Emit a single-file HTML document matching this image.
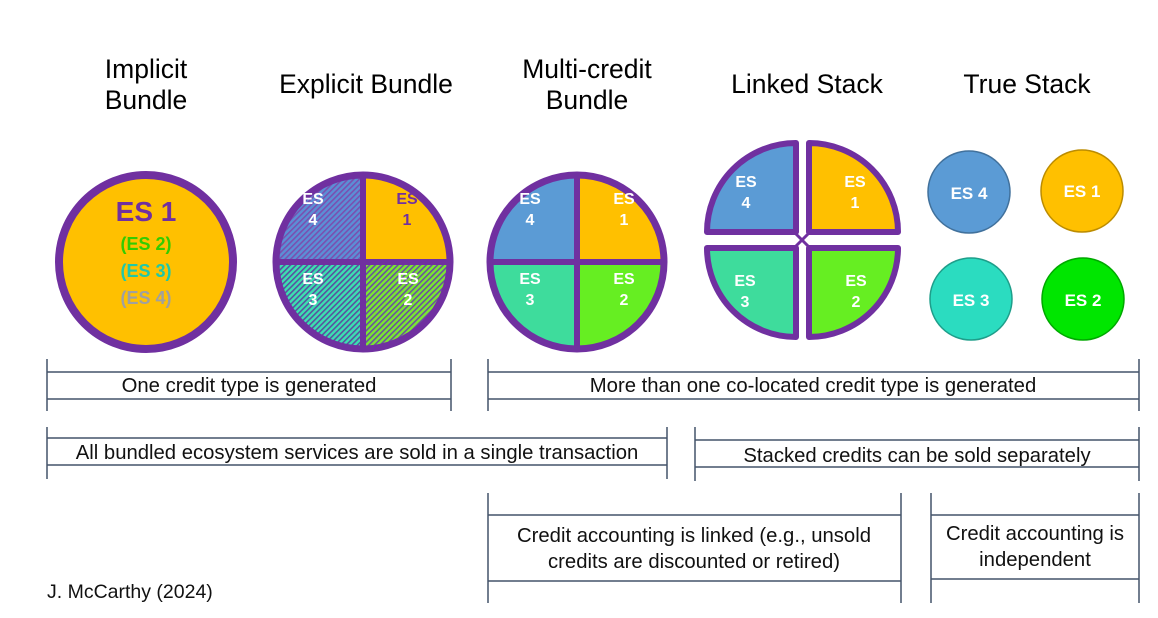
<!DOCTYPE html>
<html><head><meta charset="utf-8"><style>
body{margin:0;background:#fff;}
svg{display:block;font-family:"Liberation Sans",sans-serif;}
.t{font-size:26.5px;fill:#000;text-anchor:middle;}
.l{font-size:20.3px;fill:#111;text-anchor:middle;}
.w{font-size:16px;font-weight:bold;fill:#fff;text-anchor:middle;}
.br{stroke:#44546A;stroke-width:1.5;fill:none;}
</style></head><body>
<svg width="1158" height="618" viewBox="0 0 1158 618">
<defs>
<pattern id="hb" width="4" height="4" patternUnits="userSpaceOnUse" patternTransform="rotate(45)"><rect width="4" height="4" fill="#5B8FD5"/><rect width="1.6" height="4" fill="#7a4fb0"/></pattern>
<pattern id="ht" width="4" height="4" patternUnits="userSpaceOnUse" patternTransform="rotate(45)"><rect width="4" height="4" fill="#3CE0B0"/><rect width="1.6" height="4" fill="#5a4fa0"/></pattern>
<pattern id="hg" width="4" height="4" patternUnits="userSpaceOnUse" patternTransform="rotate(45)"><rect width="4" height="4" fill="#7AE830"/><rect width="1.6" height="4" fill="#6a50a0"/></pattern>
</defs>
<text class="t" x="146" y="78">Implicit</text><text class="t" x="146" y="109">Bundle</text>
<text class="t" x="366" y="93">Explicit Bundle</text>
<text class="t" x="587" y="78">Multi-credit</text><text class="t" x="587" y="109">Bundle</text>
<text class="t" x="807" y="93">Linked Stack</text>
<text class="t" x="1027" y="93">True Stack</text>

<circle cx="146" cy="262" r="87" fill="#FFC000" stroke="#7030A0" stroke-width="8"/>
<text x="146" y="221" text-anchor="middle" font-size="28" font-weight="bold" fill="#7030A0">ES 1</text>
<text x="146" y="250" text-anchor="middle" font-size="18" font-weight="bold" fill="#33CC00">(ES 2)</text>
<text x="146" y="277" text-anchor="middle" font-size="18" font-weight="bold" fill="#1FC8A8">(ES 3)</text>
<text x="146" y="304" text-anchor="middle" font-size="18" font-weight="bold" fill="#A0A0A0">(ES 4)</text>

<g>
<path d="M363,262 L363,175 A87,87 0 0 1 450,262Z" fill="#FFC000"/>
<path d="M363,262 L450,262 A87,87 0 0 1 363,349Z" fill="url(#hg)"/>
<path d="M363,262 L363,349 A87,87 0 0 1 276,262Z" fill="url(#ht)"/>
<path d="M363,262 L276,262 A87,87 0 0 1 363,175Z" fill="url(#hb)"/>
<circle cx="363" cy="262" r="87" fill="none" stroke="#7030A0" stroke-width="7"/>
<line x1="363" y1="175" x2="363" y2="349" stroke="#7030A0" stroke-width="6"/>
<line x1="276" y1="262" x2="450" y2="262" stroke="#7030A0" stroke-width="6"/>
<text class="w" x="407" y="204" style="fill:#7030A0">ES</text><text x="407" y="225" class="w" style="fill:#7030A0">1</text>
<text class="w" x="408" y="284">ES</text><text class="w" x="408" y="305">2</text>
<text class="w" x="313" y="284">ES</text><text class="w" x="313" y="305">3</text>
<text class="w" x="313" y="204">ES</text><text class="w" x="313" y="225">4</text>
</g>

<g>
<path d="M577,262 L577,175 A87,87 0 0 1 664,262Z" fill="#FFC000"/>
<path d="M577,262 L664,262 A87,87 0 0 1 577,349Z" fill="#66EE22"/>
<path d="M577,262 L577,349 A87,87 0 0 1 490,262Z" fill="#3EDC9C"/>
<path d="M577,262 L490,262 A87,87 0 0 1 577,175Z" fill="#5B9BD5"/>
<circle cx="577" cy="262" r="87" fill="none" stroke="#7030A0" stroke-width="7"/>
<line x1="577" y1="175" x2="577" y2="349" stroke="#7030A0" stroke-width="6"/>
<line x1="490" y1="262" x2="664" y2="262" stroke="#7030A0" stroke-width="6"/>
<text class="w" x="624" y="204">ES</text><text class="w" x="624" y="225">1</text>
<text class="w" x="624" y="284">ES</text><text class="w" x="624" y="305">2</text>
<text class="w" x="530" y="284">ES</text><text class="w" x="530" y="305">3</text>
<text class="w" x="530" y="204">ES</text><text class="w" x="530" y="225">4</text>
</g>

<g stroke="#7030A0" stroke-width="6" stroke-linejoin="round">
<path d="M809,232 L809,143 A89,89 0 0 1 898,232Z" fill="#FFC000"/>
<path d="M809,248 L898,248 A89,89 0 0 1 809,337Z" fill="#66EE22"/>
<path d="M796,248 L796,337 A89,89 0 0 1 707,248Z" fill="#3EDC9C"/>
<path d="M796,232 L707,232 A89,89 0 0 1 796,143Z" fill="#5B9BD5"/>
<line x1="796" y1="234" x2="808" y2="246" stroke-width="3"/><line x1="808" y1="234" x2="796" y2="246" stroke-width="3"/>
</g>
<text class="w" x="855" y="187">ES</text><text class="w" x="855" y="208">1</text>
<text class="w" x="856" y="286">ES</text><text class="w" x="856" y="307">2</text>
<text class="w" x="745" y="286">ES</text><text class="w" x="745" y="307">3</text>
<text class="w" x="746" y="187">ES</text><text class="w" x="746" y="208">4</text>

<circle cx="969" cy="192" r="41" fill="#5B9BD5" stroke="#41719C" stroke-width="1.5"/>
<circle cx="1082" cy="191" r="41" fill="#FFC000" stroke="#BC8C00" stroke-width="1.5"/>
<circle cx="971" cy="299" r="41" fill="#2BDCC0" stroke="#1E9E8A" stroke-width="1.5"/>
<circle cx="1083" cy="299" r="41" fill="#00E600" stroke="#00A800" stroke-width="1.5"/>
<g font-size="17" font-weight="bold" fill="#fff" text-anchor="middle">
<text x="969" y="199">ES 4</text><text x="1082" y="197">ES 1</text><text x="971" y="306">ES 3</text><text x="1083" y="306">ES 2</text></g>

<g class="br">
<path d="M47,359V411M451,359V411M47,372H451M47,399H451"/>
<path d="M488,359V411M1139,359V411M488,372H1139M488,399H1139"/>
<path d="M47,427V479M667,427V479M47,438H667M47,465H667"/>
<path d="M695,427V481M1139,427V481M695,440H1139M695,467H1139"/>
<path d="M488,493V603M901,493V603M488,515H901M488,581H901"/>
<path d="M931,493V603M1139,493V603M931,515H1139M931,579H1139"/>
</g>
<text class="l" x="249" y="392">One credit type is generated</text>
<text class="l" x="813" y="392">More than one co-located credit type is generated</text>
<text class="l" x="357" y="459">All bundled ecosystem services are sold in a single transaction</text>
<text class="l" x="917" y="462">Stacked credits can be sold separately</text>
<text class="l" x="694" y="542">Credit accounting is linked (e.g., unsold</text>
<text class="l" x="694" y="568">credits are discounted or retired)</text>
<text class="l" x="1035" y="540">Credit accounting is</text>
<text class="l" x="1035" y="566">independent</text>
<text x="47" y="598" font-size="19.5" fill="#111">J. McCarthy (2024)</text>
</svg>
</body></html>
